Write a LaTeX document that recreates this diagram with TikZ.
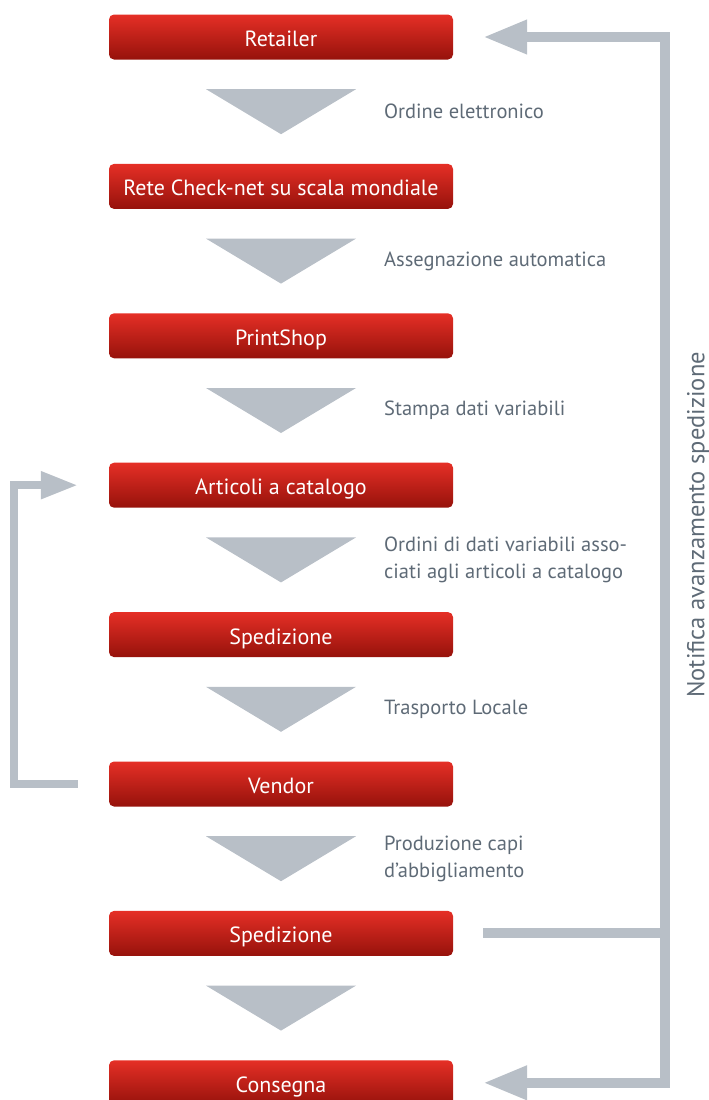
\documentclass[tikz,border=0pt]{standalone}
\usepackage{fontspec}
\setmainfont{PT Sans}
\usetikzlibrary{arrows.meta,calc}
\definecolor{boxtop}{HTML}{E52F26}
\definecolor{boxbot}{HTML}{96120B}
\definecolor{arrgray}{HTML}{B8BFC7}
\definecolor{txtgray}{HTML}{5E6A76}
\begin{document}
\begin{tikzpicture}[x=1pt, y=-1pt,
  stepbox/.style={rounded corners=5pt, top color=boxtop, bottom color=boxbot, minimum width=344pt, minimum height=45pt, inner sep=0pt, text=white, text height=19pt, text depth=0pt, font=\fontsize{22}{26}\selectfont},
  lbl/.style={anchor=west, align=left, inner sep=0pt, text=txtgray, font=\fontsize{20.5}{27}\selectfont},
  chevron/.style={fill=arrgray},
  flow/.style={draw=arrgray, line width=10pt},
]
\useasboundingbox (0,0) rectangle (709,1100);
\foreach \n/\y/\t in {1/37/Retailer, 2/186.4/Rete Check-net su scala mondiale, 3/335.8/PrintShop, 4/485.2/Articoli a catalogo, 5/634.6/Spedizione, 6/784/Vendor, 7/933.4/Spedizione, 8/1082.8/Consegna}
  \node[stepbox] (b\n) at (281,\y) {\t};
\foreach \a/\b in {1/2,2/3,3/4,4/5,5/6,6/7,7/8}
  \fill[chevron] ($(b\a)!.5!(b\b)$) ++(-75,-22.5) -- ++(150,0) -- ++(-75,45) -- cycle;
\foreach \a/\b/\t in {1/2/{Ordine elettronico}, 2/3/{Assegnazione automatica}, 3/4/{Stampa dati variabili}, 4/5/{Ordini di dati variabili asso-\\ciati agli articoli a catalogo}, 5/6/{Trasporto Locale}, 6/7/{Produzione capi\\d’abbigliamento}}
  \node[lbl] (l\a) at ($(b\a)!.5!(b\b)+(103,0)$) {\t};
% ritorno a destra
\coordinate (fb) at (665,0);
\draw[flow] ([xshift=30pt]b7.east) -- (b7.east -| fb);
\draw[flow, {Triangle[length=44pt,width=32pt]}-{Triangle[length=44pt,width=32pt]}] ([xshift=30pt]b1.east) -| (b8.east -| fb) -- ([xshift=30pt]b8.east);
\node[rotate=90, inner sep=0pt, text=txtgray, font=\fontsize{24.5}{28}\selectfont] (note) at (698,525) {Notifica avanzamento spedizione};
% ritorno a sinistra
\draw[flow, line width=8pt, -{Triangle[length=37pt,width=26pt]}] ([xshift=-31pt]b6.west) -| ([xshift=-95pt]b4.west) -- ([xshift=-31pt]b4.west);
\end{tikzpicture}
\end{document}
